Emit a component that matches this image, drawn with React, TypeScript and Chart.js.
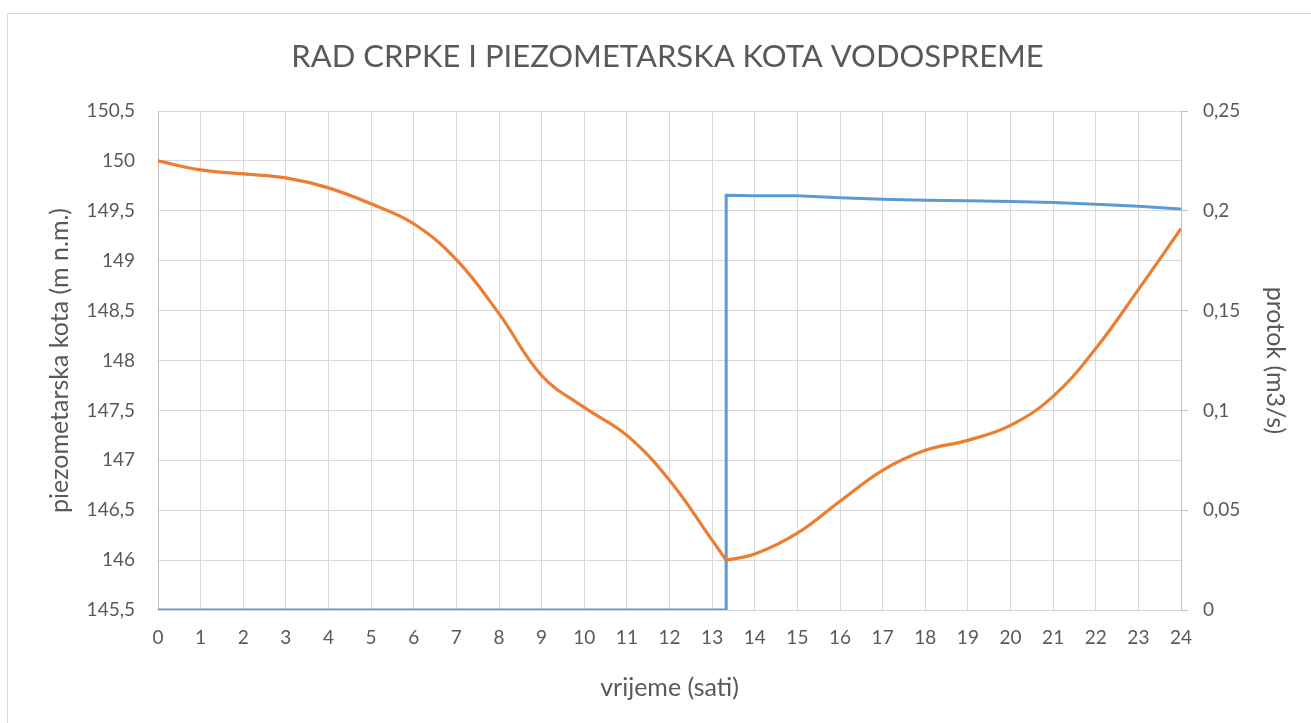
import React, { useEffect, useRef } from "react";
import { Chart, registerables } from "chart.js";

Chart.register(...registerables);

const TITLE = "RAD CRPKE I PIEZOMETARSKA KOTA VODOSPREME";
const X_TITLE = "vrijeme (sati)";
const Y_LEFT_TITLE = "piezometarska kota (m n.m.)";
const Y_RIGHT_TITLE = "protok (m3/s)";

// piezometric level (left axis)
const levelHours = [0, 1, 2, 3, 4, 5, 6, 7, 8, 9, 10, 11, 12, 13, 13.33, 14, 15, 16, 17, 18, 19, 20, 21, 22, 23, 24];
const levelValues = [150.0, 149.91, 149.87, 149.83, 149.73, 149.57, 149.37, 149.01, 148.47, 147.85, 147.53, 147.25, 146.8, 146.2, 146.0, 146.06, 146.27, 146.59, 146.9, 147.1, 147.2, 147.35, 147.64, 148.12, 148.71, 149.32];

// pump switch-on time (hours)
const pumpOn = 13.33;

// pump flow (right axis)
const flowHours = [0, 13.33, 13.33, 14, 15, 16, 17, 18, 19, 20, 21, 22, 23, 24];
const flowValues = [0, 0, 0.2078, 0.2076, 0.2075, 0.2066, 0.2058, 0.2053, 0.205, 0.2046, 0.2041, 0.2033, 0.2023, 0.2009];

const FONT = "Lato, 'Open Sans', sans-serif";
const TEXT = "#595959";
const ORANGE = "#ed7d31";

const fmt = (v: number) => String(Math.round(v * 100) / 100).replace(".", ",");

export default function App() {
  const ref = useRef<HTMLCanvasElement | null>(null);
  useEffect(() => {
    if (!ref.current) return;
    const levelPts = levelHours.map((h, i) => ({ x: h, y: levelValues[i] }));
    const falling = levelPts.filter((p) => p.x <= pumpOn);
    const rising = levelPts.filter((p) => p.x >= pumpOn);
    const orangeCommon = {
      borderColor: ORANGE,
      borderWidth: 3.2,
      pointRadius: 0,
      tension: 0.4,
      yAxisID: "y",
      order: 0,
    };
    const chart = new Chart(ref.current, {
      type: "line",
      data: {
        datasets: [
          {
            label: "flow",
            data: flowHours.map((h, i) => ({ x: h, y: flowValues[i] })),
            borderColor: "#5b9bd5",
            borderWidth: 3,
            pointRadius: 0,
            tension: 0,
            yAxisID: "y1",
            order: 1,
          },
          { label: "level", data: falling, ...orangeCommon },
          { label: "level2", data: rising, ...orangeCommon },
        ],
      },
      options: {
        responsive: false,
        animation: false,
        layout: { padding: { left: 45, right: 21, top: 0, bottom: 0 } },
        plugins: {
          legend: { display: false },
          tooltip: { enabled: false },
          title: {
            display: true,
            text: TITLE,
            color: TEXT,
            font: { family: FONT, size: 31, weight: "normal" },
            padding: { top: 38, bottom: 35.8 },
          },
        },
        scales: {
          x: {
            type: "linear",
            min: 0,
            max: 24,
            ticks: {
              stepSize: 1,
              color: TEXT,
              font: { family: FONT, size: 19 },
              padding: 16,
              maxRotation: 0,
            },
            grid: { color: "#d9d9d9", lineWidth: 1, drawTicks: false },
            border: { display: false },
            title: {
              display: true,
              text: X_TITLE,
              color: TEXT,
              font: { family: FONT, size: 25 },
              padding: { top: 0, bottom: 20 },
            },
            afterFit: (s: any) => {
              s.height = 113;
            },
          },
          y: {
            type: "linear",
            position: "left",
            min: 145.5,
            max: 150.5,
            ticks: {
              stepSize: 0.5,
              color: TEXT,
              font: { family: FONT, size: 19 },
              padding: 23,
              callback: (v: any) => fmt(Number(v)),
            },
            grid: { color: "#d9d9d9", lineWidth: 1, drawTicks: false },
            border: { color: "#bfbfbf", width: 1 },
            title: {
              display: true,
              text: Y_LEFT_TITLE,
              color: TEXT,
              font: { family: FONT, size: 25 },
              padding: { top: 0, bottom: 0 },
            },
            afterFit: (s: any) => {
              s.width = 113;
            },
          },
          y1: {
            type: "linear",
            position: "right",
            min: 0,
            max: 0.25,
            ticks: {
              stepSize: 0.05,
              color: TEXT,
              font: { family: FONT, size: 19 },
              padding: 15,
              callback: (v: any) => fmt(Number(v)),
            },
            grid: { drawOnChartArea: false, drawTicks: true, tickLength: 7, tickColor: "#bfbfbf" },
            border: { color: "#bfbfbf", width: 1 },
            title: {
              display: true,
              text: Y_RIGHT_TITLE,
              color: TEXT,
              font: { family: FONT, size: 25 },
              padding: { top: 0, bottom: 0 },
            },
            afterFit: (s: any) => {
              s.width = 109;
            },
          },
        },
      },
    });
    return () => chart.destroy();
  }, []);

  return (
    <div style={{ position: "fixed", left: 0, top: 0, width: 1311, height: 723, overflow: "hidden", background: "#fff" }}>
      <div
        style={{
          position: "absolute",
          left: 7,
          top: 13,
          width: 1400,
          height: 800,
          border: "1px solid #d9d9d9",
          boxSizing: "border-box",
        }}
      />
      <canvas ref={ref} width={1311} height={723} style={{ position: "absolute", left: 0, top: 0 }} />
    </div>
  );
}
